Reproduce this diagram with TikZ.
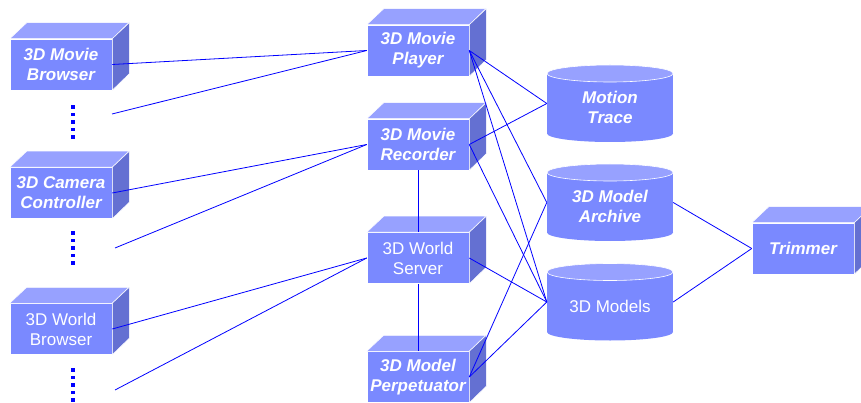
\documentclass[tikz,border=0pt]{standalone}
\usepackage{fontspec}
\setmainfont{Liberation Sans}
\usetikzlibrary{calc}

\definecolor{facefront}{RGB}{122,137,255}
\definecolor{facetop}{RGB}{151,161,255}
\definecolor{faceside}{RGB}{100,112,210}
\definecolor{wire}{RGB}{0,0,255}

\tikzset{
  unitbox/.style={rectangle, fill=facefront, draw=white, line width=0.5pt,
    minimum width=102pt, minimum height=51pt, inner sep=0pt, text=white,
    align=center, font=\fontsize{17pt}{20pt}\selectfont},
  boldit/.style={font=\fontsize{17pt}{20pt}\selectfont\bfseries\itshape},
  store/.style={rectangle, minimum width=126pt, minimum height=77pt,
    inner sep=0pt, text=white, font=\fontsize{17pt}{20pt}\selectfont},
  link/.style={draw=wire, line width=0.8pt},
}

% top and right faces of a box node
\newcommand\boxsides[1]{%
  \filldraw[fill=facetop, draw=white, line width=0.5pt]
    (#1.north west) -- ++(17pt,16pt) -- ++(102pt,0pt) -- (#1.north east) -- cycle;
  \filldraw[fill=faceside, draw=white, line width=0.5pt]
    (#1.north east) -- ++(17pt,16pt) -- ++(0pt,-51pt) -- (#1.south east) -- cycle;
}

% data store: options, name, x, y, label
\newcommand\drum[5]{%
  \fill[facefront] (#3-63,#4-30) rectangle (#3+63,#4+30);
  \fill[facefront] (#3,#4+30) ellipse[x radius=63pt, y radius=8.5pt];
  \filldraw[fill=facetop, draw=white, line width=0.6pt]
    (#3,#4-30) ellipse[x radius=63pt, y radius=8.5pt];
  \node[store,#1] (#2) at (#3,#4)
    {\raisebox{-6pt}[\height][\depth]{\begin{tabular}{@{}c@{}}#5\end{tabular}}};
}

\begin{document}
\begin{tikzpicture}[x=1pt, y=-1pt]
\useasboundingbox (0,0) rectangle (861,403);

% clients
\node[unitbox, boldit] (mb) at (61,64.5) {3D Movie\\Browser};
\boxsides{mb}
\node[unitbox, boldit] (cc) at (61,193) {3D Camera\\Controller};
\boxsides{cc}
\node[unitbox] (wb) at (61,329) {3D World\\Browser};
\boxsides{wb}

% services
\node[unitbox, boldit] (pl) at (418,50.5) {3D Movie\\Player};
\boxsides{pl}
\node[unitbox, boldit] (rec) at (418,144.5) {3D Movie\\Recorder};
\boxsides{rec}
\node[unitbox] (ws) at (418,258) {3D World\\Server};
\boxsides{ws}
\node[unitbox, boldit] (perp) at (418,377) {3D Model\\Perpetuator};
\boxsides{perp}

\node[unitbox, boldit] (trim) at (803,248.5) {Trimmer};
\boxsides{trim}

% stores
\drum{boldit}{mt}{610}{103.5}{Motion\\Trace}
\drum{boldit}{arch}{610}{202.5}{3D Model\\Archive}
\drum{}{mod}{610}{302}{3D Models}

% ellipsis marks below each client
\foreach \y in {107,233,370}{
  \foreach \k in {0,...,4}{
    \fill[wire] (71.25,\y+7.5*\k-1.75) rectangle (74.75,\y+7.5*\k+1.75);
  }
}

% loose ends of the client links
\coordinate (f1) at (112,114);
\coordinate (f2) at (115,248);
\coordinate (f3) at (115,390);

% links
\draw[link] (mb.east) -- (pl.west);
\draw[link] (f1) -- (pl.west);
\draw[link] (cc.east) -- (rec.west);
\draw[link] (f2) -- (rec.west);
\draw[link] (wb.east) -- (ws.west);
\draw[link] (f3) -- (ws.west);

\draw[link] (rec.south) -- (ws.north);
\draw[link] (ws.south) -- (perp.north);

\draw[link] (pl.east) -- (mt.west);
\draw[link] (pl.east) -- (arch.west);
\draw[link] (pl.east) -- (mod.west);
\draw[link] (rec.east) -- (mt.west);
\draw[link] (rec.east) -- (mod.west);
\draw[link] (ws.east) -- (mod.west);
\draw[link] (perp.east) -- (arch.west);
\draw[link] (perp.east) -- (mod.west);

\draw[link] (arch.east) -- (trim.west);
\draw[link] (mod.east) -- (trim.west);
\end{tikzpicture}
\end{document}
